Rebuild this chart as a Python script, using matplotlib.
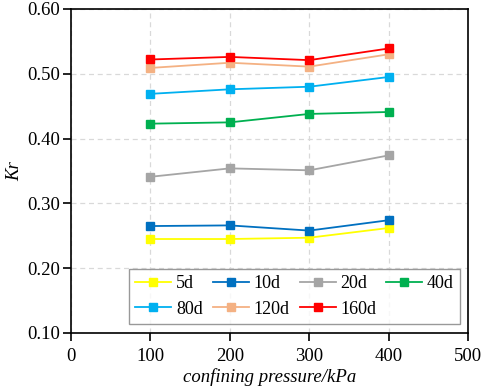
import matplotlib.pyplot as plt

# Данні
pressure = [100, 200, 300, 400]
labels = ['5d', '10d', '20d', '40d', '80d', '120d', '160d']
kr_5d = [0.245, 0.245, 0.247, 0.262]
kr_10d = [0.265, 0.266, 0.258, 0.274]
kr_20d = [0.341, 0.354, 0.351, 0.374]
kr_40d = [0.423, 0.425, 0.438, 0.441]
kr_80d = [0.469, 0.476, 0.480, 0.495]
kr_120d = [0.509, 0.517, 0.511, 0.530]
kr_160d = [0.522, 0.526, 0.521, 0.539]
colors = ['#FFFF00', '#0070C0', '#A5A5A5', '#00B050', '#00B0F0', '#F4B183', '#FF0000']

plt.rcParams['font.family'] = ['Liberation Serif', 'DejaVu Serif']

fig = plt.figure(figsize=(4.84, 3.89), dpi=100)
ax = fig.add_axes([0.1467, 0.144, 0.8203, 0.833])

series = [kr_5d, kr_10d, kr_20d, kr_40d, kr_80d, kr_120d, kr_160d]
for vals, lab, c in zip(series, labels, colors):
    ax.plot(pressure, vals, color=c, marker='s', markersize=5.5, linewidth=1.3, label=lab)

ax.set_xlim(0, 500)
ax.set_ylim(0.10, 0.60)
ax.set_xticks([0, 100, 200, 300, 400, 500])
ax.set_yticks([0.10, 0.20, 0.30, 0.40, 0.50, 0.60])
ax.set_yticklabels([f'{v:.2f}' for v in ax.get_yticks()])
ax.tick_params(axis='both', labelsize=13.5, direction='out', length=6, width=1.2, pad=2)
ax.tick_params(axis='x', pad=5)
ax.grid(True, linestyle=(0, (4, 3)), color='#D9D9D9', linewidth=0.9)
for s in ax.spines.values():
    s.set_linewidth(1.2)

ax.set_xlabel('confining pressure/kPa', fontsize=13.5, style='italic', labelpad=2)
ax.set_ylabel('Kr', fontsize=13.5, style='italic', labelpad=3)

# порядок по рядках, як в оригіналі
h, l = ax.get_legend_handles_labels()
order = [0, 4, 1, 5, 2, 6, 3]
leg = ax.legend([h[i] for i in order], [l[i] for i in order], ncol=4, loc='lower left',
                bbox_to_anchor=(0.146, 0.028, 0.834, 0.188),
                mode='expand', fontsize=13, handlelength=2.0, columnspacing=0.5,
                handletextpad=0.25, fancybox=False, edgecolor='#808080', borderaxespad=0,
                labelspacing=0.45, borderpad=0.35)
leg.get_frame().set_linewidth(1.0)

plt.savefig('out.png', dpi=100)
